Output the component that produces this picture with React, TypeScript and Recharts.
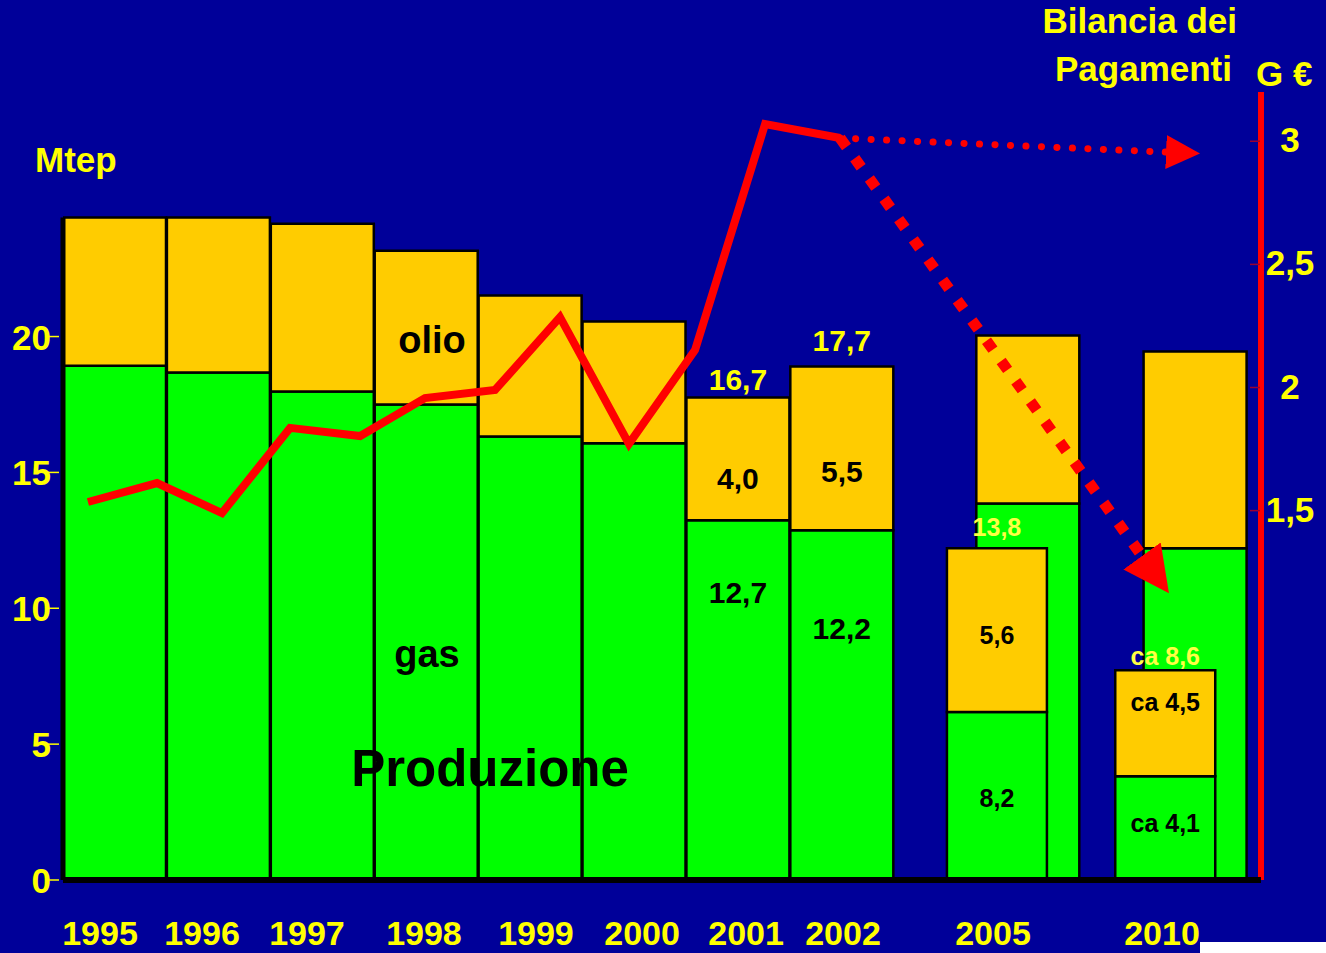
import React from 'react';
import { ComposedChart, Bar, Line, XAxis, YAxis, LabelList, ReferenceLine } from 'recharts';

// Mtep produced per year (gas at the bottom, olio on top)
const years = ['1995', '1996', '1997', '1998', '1999', '2000', '2001', '2002', '2005', '2010'];
const barSlot = [0.5, 1.5, 2.5, 3.5, 4.5, 5.5, 6.5, 7.5, 9.29, 10.9];
const gas = [18.93, 18.68, 17.98, 17.5, 16.32, 16.07, 13.24, 12.87, 13.86, 12.21];
const olio = [5.45, 5.7, 6.17, 5.66, 5.19, 4.48, 4.52, 6.03, 6.18, 7.24];
const gasText = ['', '', '', '', '', '', '12,7', '12,2', '', ''];
const olioText = ['', '', '', '', '', '', '4,0', '5,5', '', ''];
const totalText = ['', '', '', '', '', '', '16,7', '17,7', '', ''];

// scenario bars standing in front of 2005 and 2010
const scenarioYears = ['2005', '2010'];
const scenarioSlot = [8.99, 10.61];
const scenarioGas = [6.18, 3.82];
const scenarioOlio = [6.03, 3.9];
const scenarioGasText = ['8,2', 'ca 4,1'];
const scenarioOlioText = ['5,6', 'ca 4,5'];
const scenarioTotalText = ['13,8', 'ca 8,6'];

// Bilancia dei Pagamenti, G€
const bpSlot = [0.24, 0.905, 1.53, 2.185, 2.86, 3.484, 4.158, 4.783, 5.447, 6.083, 6.757, 7.479];
const bpValue = [1.535, 1.612, 1.49, 1.836, 1.803, 1.957, 1.99, 2.286, 1.771, 2.152, 3.07, 3.013];
const flatSlot = [7.479, 10.616];
const flatValue = [3.013, 2.956];
const downSlot = [7.479, 10.385];
const downValue = [3.013, 1.316];

const yearTickSlot = [0.356, 1.338, 2.348, 3.474, 4.552, 5.573, 6.574, 7.507, 8.951, 10.577];
const mtepTicks = [0, 5, 10, 15, 20];
const bpTicks = [1.5, 2, 2.5, 3];

const W = 1326;
const H = 953;
const X_AXIS_H = 73;
const PLOT_BOTTOM = H - X_AXIS_H;
const X_DOMAIN: [number, number] = [0, 11.53];
const FONT = '"Liberation Sans", Arial, sans-serif';
const BG = '#000099';
const YELLOW = '#ffff00';
const GREEN = '#00ff00';
const ORANGE = '#ffcc00';
const RED = '#ff0000';
const MARGIN = { top: 92, right: 0, bottom: 0, left: 0 };

const barRows = years.map((year, i) => ({ year, x: barSlot[i], gas: gas[i], olio: olio[i] }));
const scenarioRows = scenarioYears.map((year, i) => ({
  year,
  x: scenarioSlot[i],
  gas: scenarioGas[i],
  olio: scenarioOlio[i],
}));
const bpRows = bpSlot.map((x, i) => ({ x, bp: bpValue[i] }));
const flatRows = flatSlot.map((x, i) => ({ x, bp: flatValue[i] }));
const downRows = downSlot.map((x, i) => ({ x, bp: downValue[i] }));

// vertical nudges of the value labels (px)
const shiftGas = [0, 0, 0, 0, 0, 0, -108, -77, 0, 0];
const shiftOlio = [0, 0, 0, 0, 0, 0, 20, 23, 0, 0];
const shiftTotal = [0, 0, 0, 0, 0, 0, -18, -26, 0, 0];
const shiftScGas = [2, -5];
const shiftScOlio = [5, -21];
const shiftScTotal = [-21, -14];

const barLabel =
  (keys: string[], texts: string[], shift: number[], where: 'mid' | 'top', color: string, size: number) =>
  // eslint-disable-next-line @typescript-eslint/no-explicit-any
  (props: any) => {
    const i = keys.indexOf(String(props.value));
    const t = texts[i];
    if (!t) return null;
    const vb = props.viewBox ?? props;
    const cx = vb.x + vb.width / 2;
    const cy = (where === 'mid' ? vb.y + vb.height / 2 : vb.y) + shift[i];
    return (
      <text x={cx} y={cy} textAnchor="middle" dominantBaseline="central" fill={color} fontSize={size} fontWeight="bold" fontFamily={FONT}>
        {t}
      </text>
    );
  };

// eslint-disable-next-line @typescript-eslint/no-explicit-any
const LeftTick = (p: any) => (
  <g>
    <line x1={p.x - 13} x2={p.x - 2} y1={p.y} y2={p.y} stroke={YELLOW} strokeWidth={1.5} />
    <text x={p.x - 10} y={p.y + 13} textAnchor="end" fill={YELLOW} fontSize={35} fontWeight="bold" fontFamily={FONT}>
      {p.payload.value}
    </text>
  </g>
);

// eslint-disable-next-line @typescript-eslint/no-explicit-any
const RightTick = (p: any) => (
  <g>
    <line x1={p.x - 13} x2={p.x - 3} y1={p.y} y2={p.y} stroke="#990033" strokeWidth={1.5} />
    <text x={p.x + 27} y={p.y + 11} textAnchor="middle" fill={YELLOW} fontSize={35} fontWeight="bold" fontFamily={FONT}>
      {String(p.payload.value).replace('.', ',')}
    </text>
  </g>
);

// eslint-disable-next-line @typescript-eslint/no-explicit-any
const YearTick = (p: any) => {
  const i = yearTickSlot.indexOf(p.payload.value);
  return (
    <text x={p.x} y={PLOT_BOTTOM + 65} textAnchor="middle" fill={YELLOW} fontSize={34} fontWeight="bold" fontFamily={FONT}>
      {years[i]}
    </text>
  );
};

const layer: React.CSSProperties = { position: 'absolute', left: 0, top: 0 };
const txt = { fontFamily: FONT, fontWeight: 'bold' as const };

export default function App() {
  return (
    <div style={{ position: 'absolute', left: 0, top: 0, width: W, height: H, background: BG, overflow: 'hidden' }}>
      <div style={layer}>
        <ComposedChart width={W} height={H} data={barRows} margin={MARGIN}>
          <defs>
            <marker id="headSmall" markerUnits="userSpaceOnUse" markerWidth={34} markerHeight={34} viewBox="0 0 34 34" refX={0} refY={17} orient="auto">
              <path d="M0,0 L34,17 L0,34 z" fill={RED} />
            </marker>
            <marker id="headBig" markerUnits="userSpaceOnUse" markerWidth={46} markerHeight={46} viewBox="0 0 46 46" refX={0} refY={23} orient="auto">
              <path d="M0,0 L46,23 L0,46 z" fill={RED} />
            </marker>
          </defs>
          <XAxis xAxisId="bars" dataKey="x" type="number" domain={X_DOMAIN} allowDataOverflow hide />
          <XAxis
            xAxisId="line"
            dataKey="x"
            type="number"
            domain={X_DOMAIN}
            allowDataOverflow
            ticks={yearTickSlot}
            interval={0}
            height={X_AXIS_H}
            axisLine={false}
            tickLine={false}
            tickSize={0}
            tick={YearTick}
          />
          <YAxis
            yAxisId="left"
            domain={[0, 29]}
            ticks={mtepTicks}
            interval={0}
            width={63}
            axisLine={false}
            tickLine={false}
            tickSize={0}
            tick={LeftTick}
          />
          <YAxis
            yAxisId="right"
            orientation="right"
            domain={[0, 3.2]}
            ticks={bpTicks}
            interval={0}
            width={65}
            axisLine={{ stroke: RED, strokeWidth: 6 }}
            tickLine={false}
            tickSize={0}
            tick={RightTick}
          />
          <Bar xAxisId="bars" yAxisId="left" dataKey="gas" stackId="a" fill={GREEN} stroke="#000" strokeWidth={2.5} barSize={103} isAnimationActive={false}>
            <LabelList dataKey="year" content={barLabel(years, gasText, shiftGas, 'mid', '#000', 30)} />
          </Bar>
          <Bar xAxisId="bars" yAxisId="left" dataKey="olio" stackId="a" fill={ORANGE} stroke="#000" strokeWidth={2.5} barSize={103} isAnimationActive={false}>
            <LabelList dataKey="year" content={barLabel(years, olioText, shiftOlio, 'mid', '#000', 30)} />
            <LabelList dataKey="year" content={barLabel(years, totalText, shiftTotal, 'top', YELLOW, 30)} />
          </Bar>
          <ReferenceLine
            xAxisId="bars"
            yAxisId="left"
            segment={[{ x: 0, y: 0 }, { x: 0, y: gas[0] + olio[0] }]}
            stroke="#000"
            strokeWidth={5}
          />
          <Line xAxisId="line" yAxisId="right" data={bpRows} dataKey="bp" type="linear" stroke={RED} strokeWidth={8} dot={false} activeDot={false} isAnimationActive={false} />
          <Line
            xAxisId="line"
            yAxisId="right"
            data={flatRows}
            dataKey="bp"
            type="linear"
            stroke={RED}
            strokeWidth={7}
            strokeDasharray="0.1 15.4"
            strokeLinecap="round"
            markerEnd="url(#headSmall)"
            dot={false}
            activeDot={false}
            isAnimationActive={false}
          />
          <Line
            xAxisId="line"
            yAxisId="right"
            data={downRows}
            dataKey="bp"
            type="linear"
            stroke={RED}
            strokeWidth={11}
            strokeDasharray="11 14"
            markerEnd="url(#headBig)"
            dot={false}
            activeDot={false}
            isAnimationActive={false}
          />
        </ComposedChart>
      </div>

      <div style={layer}>
        <ComposedChart width={W} height={H} data={scenarioRows} margin={{ ...MARGIN, right: 65 }}>
          <XAxis
            xAxisId="front"
            dataKey="x"
            type="number"
            domain={X_DOMAIN}
            allowDataOverflow
            height={X_AXIS_H}
            axisLine={{ stroke: '#000', strokeWidth: 6 }}
            tick={false}
            tickLine={false}
          />
          <YAxis yAxisId="left" domain={[0, 29]} width={63} axisLine={false} tickLine={false} tick={false} />
          <Bar xAxisId="front" yAxisId="left" dataKey="gas" stackId="s" fill={GREEN} stroke="#000" strokeWidth={2.5} barSize={100} isAnimationActive={false}>
            <LabelList dataKey="year" content={barLabel(scenarioYears, scenarioGasText, shiftScGas, 'mid', '#000', 25)} />
          </Bar>
          <Bar xAxisId="front" yAxisId="left" dataKey="olio" stackId="s" fill={ORANGE} stroke="#000" strokeWidth={2.5} barSize={100} isAnimationActive={false}>
            <LabelList dataKey="year" content={barLabel(scenarioYears, scenarioOlioText, shiftScOlio, 'mid', '#000', 25)} />
            <LabelList dataKey="year" content={barLabel(scenarioYears, scenarioTotalText, shiftScTotal, 'top', '#ffff44', 25)} />
          </Bar>
        </ComposedChart>
      </div>

      <svg width={W} height={H} style={{ ...layer, pointerEvents: 'none' }}>
        <text x={35} y={172} fill={YELLOW} fontSize={35} {...txt}>Mtep</text>
        <text x={1237} y={33} textAnchor="end" fill={YELLOW} fontSize={35} {...txt}>Bilancia dei</text>
        <text x={1232} y={81} textAnchor="end" fill={YELLOW} fontSize={35} {...txt}>Pagamenti</text>
        <text x={1256} y={86} fill={YELLOW} fontSize={35} {...txt}>G €</text>
        <text x={432} y={353} textAnchor="middle" fill="#000" fontSize={38} {...txt}>olio</text>
        <text x={427} y={667} textAnchor="middle" fill="#000" fontSize={38} {...txt}>gas</text>
        <text x={490} y={786} textAnchor="middle" fill="#000" fontSize={51} {...txt}>Produzione</text>
      </svg>
      <div style={{ position: 'absolute', left: 1200, top: 942, width: 126, height: 11, background: '#fff' }} />
    </div>
  );
}
